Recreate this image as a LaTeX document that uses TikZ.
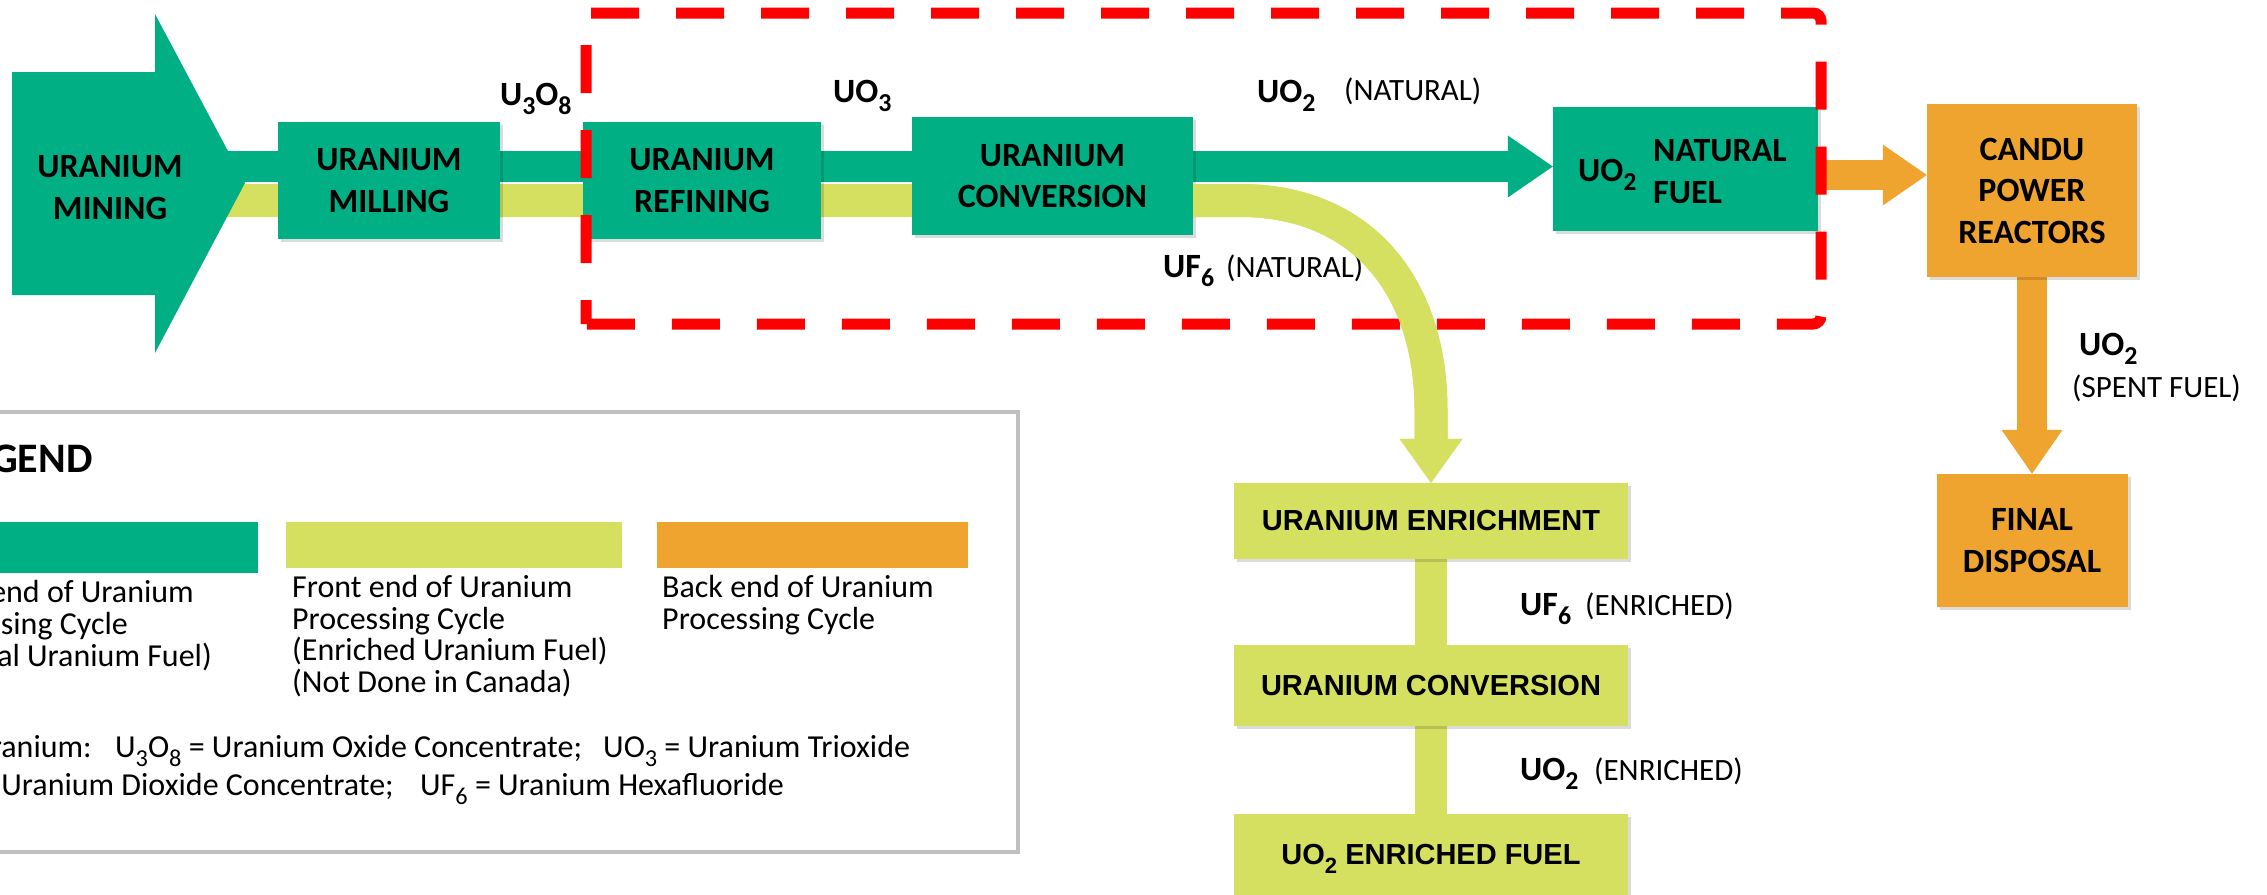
\documentclass[tikz,border=0pt]{standalone}
\usepackage{fontspec}
\setmainfont{Carlito}
\newfontfamily\arialfont{Liberation Sans}
\usepackage{graphicx}
\usetikzlibrary{arrows.meta,shadows}
\definecolor{ugreen}{RGB}{0,176,132}
\definecolor{uyellow}{RGB}{213,224,97}
\definecolor{uorange}{RGB}{240,164,48}
\definecolor{ured}{RGB}{255,0,0}
\definecolor{ugray}{RGB}{191,191,191}
\newcommand{\dn}[1]{\raisebox{-0.29em}{\scalebox{0.76}{#1}}}
\pgfdeclarelayer{bg}
\pgfsetlayers{bg,main}
\tikzset{
  bigfont/.style={font=\fontsize{34}{41.5}\selectfont\bfseries},
  parfont/.style={font=\fontsize{31}{36}\selectfont},
  legfont/.style={font=\fontsize{32}{34}\selectfont},
  softshadow/.style={drop shadow={shadow xshift=3pt, shadow yshift=-3pt, opacity=0.14, fill=black}},
  gbox/.style={fill=ugreen, inner sep=0pt, align=center, bigfont, softshadow},
  obox/.style={fill=uorange, inner sep=0pt, align=center, bigfont, softshadow},
  ybox/.style={fill=uyellow, inner sep=0pt, align=center, softshadow,
    font=\arialfont\bfseries\fontsize{29}{34}\selectfont},
  gband/.style={draw=ugreen, line width=31pt},
  yband/.style={draw=uyellow, line width=33pt},
  ylink/.style={draw=uyellow, line width=32pt},
  oband/.style={draw=uorange, line width=30pt},
  lbl/.style={inner sep=0pt, anchor=base west},
  lble/.style={inner sep=0pt, anchor=base east},
  redbox/.style={draw=ured, line width=11pt, dash pattern=on 48pt off 37pt, dash phase=24pt},
  gtip/.style={-{Triangle[length=45pt,width=62pt,line width=0pt]}},
  ytip/.style={-{Triangle[length=44pt,width=63pt,line width=0pt]}},
  otip/.style={-{Triangle[length=44pt,width=61pt,line width=0pt]}},
}
\begin{document}
\begin{tikzpicture}[x=1pt,y=-1pt]
\useasboundingbox (0,0) rectangle (2267,894);

% ---------- legend ----------
\node[draw=ugray, line width=3.5pt, minimum width=1030pt, minimum height=440pt, inner sep=0pt] (legend) at (503,632) {};
\fill[ugreen] (-5,522) rectangle (258,573);
\fill[uyellow] (286,522) rectangle (622,568);
\fill[uorange] (657,522) rectangle (968,568);
\node[lbl, font=\fontsize{42}{48}\selectfont\bfseries] (legtitle) at (-9,472) {GEND};
\node[lble, legfont] at (194,602) {end of Uranium};
\node[lble, legfont] at (128,634) {sing Cycle};
\node[lble, legfont] at (212,666) {al Uranium Fuel)};
\node[lbl, legfont] at (292,597) {Front end of Uranium};
\node[lbl, legfont] at (292,629) {Processing Cycle};
\node[lbl, legfont] at (292,660) {(Enriched Uranium Fuel)};
\node[lbl, legfont] at (292,692) {(Not Done in Canada)};
\node[lbl, legfont] at (662,597) {Back end of Uranium};
\node[lbl, legfont] at (662,629) {Processing Cycle};
\node[lble, legfont] at (92,757) {ranium:};
\node[lbl, legfont] at (115,757) {U\dn{3}O\dn{8} = Uranium Oxide Concentrate;};
\node[lbl, legfont] at (603,757) {UO\dn{3} = Uranium Trioxide};
\node[lble, legfont] at (394,795) {Uranium Dioxide Concentrate;};
\node[lbl, legfont] at (420,795) {UF\dn{6} = Uranium Hexafluoride};

% ---------- mining arrow ----------
\coordinate (mtip) at (245,183);
\coordinate (mining) at (110,187.5);

% ---------- boxes ----------
\node[gbox, minimum width=222pt, minimum height=117pt] (milling) at (389,180.5) {URANIUM\\MILLING};
\node[gbox, minimum width=238pt, minimum height=117pt] (refining) at (702,180.5) {URANIUM\\REFINING};
\node[gbox, minimum width=281pt, minimum height=118pt] (conversion) at (1052.5,176) {URANIUM\\CONVERSION};
\node[gbox, minimum width=265pt, minimum height=124pt] (natfuel) at (1685.5,169) {};
\node[lbl, bigfont] (nfuo) at (1578,181) {UO\dn{2}};
\node[lbl, bigfont] (nfa) at (1653,161) {NATURAL};
\node[lbl, bigfont] (nfb) at (1653,203) {FUEL};
\node[obox, minimum width=210pt, minimum height=173pt] (candu) at (2032,190.5) {CANDU\\POWER\\REACTORS};
\node[obox, minimum width=191pt, minimum height=133pt] (disposal) at (2032,540.5) {FINAL\\DISPOSAL};
\node[ybox, minimum width=394pt, minimum height=76pt] (enrich) at (1431,521) {URANIUM ENRICHMENT};
\node[ybox, minimum width=394pt, minimum height=81pt] (conv2) at (1431,685.5) {URANIUM CONVERSION};
\node[ybox, minimum width=394pt, minimum height=90pt] (enfuel) at (1431,859) {UO\dn{2} ENRICHED FUEL};

% ---------- flow labels ----------
\node[lbl, bigfont] (l1) at (500,105) {U\dn{3}O\dn{8}};
\node[lbl, bigfont] (l2) at (833,102) {UO\dn{3}};
\node[lbl, bigfont] (l3) at (1257,102) {UO\dn{2}};
\node[lbl, parfont] (l3b) at (1344,100) {(NATURAL)};
\node[lbl, bigfont] (l4) at (1163,277) {UF\dn{6}};
\node[lbl, parfont] (l4b) at (1226,277) {(NATURAL)};
\node[lbl, bigfont] (l5) at (2079,355) {UO\dn{2}};
\node[lbl, parfont] (l5b) at (2072,397) {(SPENT FUEL)};
\node[lbl, bigfont] (l6) at (1520,615) {UF\dn{6}};
\node[lbl, parfont] (l6b) at (1585,615) {(ENRICHED)};
\node[lbl, bigfont] (l7) at (1520,780) {UO\dn{2}};
\node[lbl, parfont] (l7b) at (1594,780) {(ENRICHED)};

% ---------- connectors (behind boxes) ----------
\coordinate (gs) at (200,166.5);
\coordinate (ys) at (200,200.5);
\coordinate (oy) at (0,175);
\coordinate (ybend) at (1240,200.5);
\coordinate (ydown) at (1431,410);
\begin{pgfonlayer}{bg}
\draw[gband, gtip] (gs) -- (natfuel.west |- gs);
\draw[yband, ytip] (ys) -- (ybend) .. controls (1365,200.5) and (1431,290) .. (ydown) -- (enrich.north);
\draw[oband, otip] (natfuel.east |- oy) -- (candu.west |- oy);
\draw[oband, otip] (candu.south) -- (disposal.north);
\draw[ylink] (enrich.south) -- (conv2.north);
\draw[ylink] (conv2.south) -- (enfuel.north);
\end{pgfonlayer}

% mining arrow above the bands
\fill[ugreen] (12,72) -- (155,72) -- (155,14) -- (mtip) -- (155,353) -- (155,295) -- (12,295) -- cycle;
\node[bigfont, align=center, inner sep=0pt] (miningtext) at (mining) {URANIUM\\MINING};

% ---------- red dashed region ----------
\draw[redbox] (586,324) -- (586,13) [rounded corners=8pt] -- (1821,13) -- (1821,324) [sharp corners] -- cycle;

% yellow branch over the dashed frame
\draw[yband, ytip] (conversion.east |- ys) -- (ybend) .. controls (1365,200.5) and (1431,290) .. (ydown) -- (enrich.north);
\end{tikzpicture}
\end{document}
